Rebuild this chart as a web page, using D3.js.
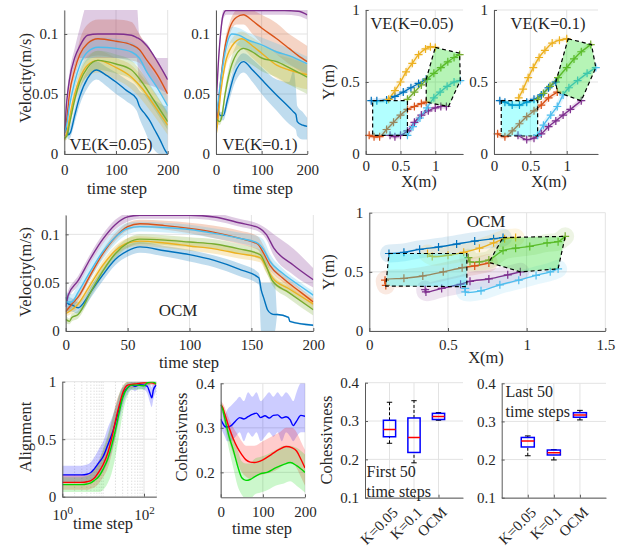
<!DOCTYPE html>
<html>
<head>
<meta charset="utf-8">
<script src="https://cdn.jsdelivr.net/npm/d3@7"></script>
<style>
  body { margin: 0; background: #fff; }
</style>
</head>
<body>
<svg id="fig" width="631" height="550"></svg>
<script>
// ---------------- data ----------------
// velocity series: [time step, mean, band low, band high]
const k005Blue = [[0,0.02,0.017,0.023],[4,0.022,0.018,0.026],[8,0.016,0.012,0.02],[12,0.018,0.014,0.024],[20,0.032,0.026,0.038],[30,0.048,0.041,0.055],[45,0.063,0.055,0.07],[62,0.07,0.062,0.077],[80,0.066,0.057,0.073],[100,0.06,0.05,0.068],[120,0.053,0.044,0.062],[140,0.046,0.036,0.056],[145,0.04,0.03,0.053],[155,0.034,0.02,0.05],[165,0.028,0.01,0.048],[175,0.02,0.003,0.045],[185,0.012,0,0.042],[195,0.003,0,0.04],[200,0,0,0.04]];
const k005Orange = [[0,0.017,0.015,0.019],[5,0.03,0.026,0.034],[10,0.05,0.045,0.055],[20,0.07,0.064,0.076],[30,0.083,0.076,0.095],[45,0.092,0.08,0.108],[65,0.096,0.082,0.112],[100,0.094,0.08,0.112],[130,0.091,0.078,0.11],[145,0.087,0.076,0.1],[160,0.078,0.068,0.09],[180,0.066,0.055,0.078],[200,0.05,0.04,0.062]];
const k005Yellow = [[0,0.012,0.01,0.014],[5,0.018,0.015,0.021],[10,0.03,0.026,0.034],[20,0.05,0.044,0.056],[30,0.063,0.055,0.07],[45,0.074,0.065,0.082],[65,0.078,0.068,0.086],[100,0.072,0.062,0.08],[130,0.064,0.054,0.074],[150,0.055,0.045,0.065],[170,0.043,0.034,0.054],[200,0.024,0.016,0.034]];
const k005Purple = [[0,0.015,0.012,0.018],[5,0.045,0.04,0.05],[10,0.062,0.056,0.068],[20,0.08,0.073,0.088],[30,0.09,0.08,0.105],[45,0.099,0.08,0.125],[65,0.1,0.08,0.125],[100,0.1,0.08,0.125],[130,0.099,0.08,0.125],[140,0.097,0.08,0.125],[145,0.096,0.06,0.1],[160,0.09,0.058,0.092],[180,0.077,0.055,0.08],[200,0.062,0.05,0.08]];
const k005Green = [[0,0.013,0.011,0.015],[5,0.015,0.012,0.018],[10,0.025,0.021,0.029],[20,0.045,0.04,0.05],[30,0.06,0.054,0.067],[45,0.072,0.065,0.08],[65,0.078,0.07,0.086],[100,0.075,0.067,0.083],[130,0.07,0.062,0.078],[150,0.06,0.052,0.068],[170,0.047,0.04,0.055],[200,0.027,0.02,0.035]];
const k005Cyan = [[0,0.018,0.015,0.021],[5,0.025,0.021,0.029],[10,0.04,0.035,0.045],[20,0.06,0.054,0.066],[30,0.074,0.067,0.081],[45,0.085,0.078,0.093],[65,0.089,0.081,0.097],[100,0.088,0.08,0.096],[130,0.085,0.077,0.093],[145,0.08,0.072,0.088],[160,0.068,0.06,0.076],[180,0.055,0.047,0.063],[200,0.04,0.032,0.048]];

const k01Blue = [[0,0.042,0.04,0.044],[5,0.036,0.033,0.039],[10,0.032,0.029,0.035],[16,0.032,0.028,0.036],[25,0.045,0.039,0.051],[40,0.066,0.058,0.073],[60,0.077,0.068,0.084],[80,0.07,0.06,0.079],[100,0.062,0.05,0.072],[133,0.049,0.036,0.062],[160,0.039,0.025,0.06],[170,0.035,0.022,0.07],[175,0.033,0.02,0.055],[178,0.027,0.015,0.04],[190,0.024,0.012,0.035],[200,0.023,0.012,0.03]];
const k01Orange = [[0,0.018,0.016,0.02],[5,0.04,0.036,0.044],[10,0.06,0.055,0.065],[20,0.09,0.085,0.095],[30,0.105,0.1,0.11],[45,0.114,0.108,0.12],[60,0.116,0.108,0.122],[80,0.111,0.1,0.12],[100,0.105,0.092,0.116],[133,0.096,0.083,0.109],[160,0.088,0.075,0.1],[180,0.082,0.07,0.095],[200,0.077,0.065,0.09]];
const k01Yellow = [[0,0.015,0.013,0.017],[5,0.03,0.027,0.033],[10,0.05,0.046,0.054],[20,0.075,0.07,0.08],[35,0.09,0.083,0.096],[56,0.096,0.088,0.102],[80,0.09,0.08,0.097],[100,0.084,0.073,0.092],[133,0.074,0.063,0.083],[160,0.07,0.058,0.08],[200,0.066,0.054,0.075]];
const k01Purple = [[0,0.04,0.037,0.043],[5,0.075,0.071,0.079],[10,0.1,0.096,0.104],[15,0.115,0.111,0.119],[22,0.1195,0.116,0.123],[60,0.1195,0.116,0.123],[100,0.1195,0.116,0.123],[150,0.1195,0.116,0.123],[180,0.119,0.115,0.123],[200,0.116,0.112,0.12]];
const k01Green = [[0,0.03,0.027,0.033],[4,0.028,0.025,0.031],[8,0.027,0.024,0.03],[12,0.03,0.027,0.034],[20,0.05,0.045,0.055],[35,0.075,0.068,0.082],[60,0.088,0.078,0.096],[80,0.085,0.074,0.094],[100,0.08,0.069,0.09],[133,0.077,0.064,0.086],[160,0.072,0.058,0.082],[200,0.064,0.05,0.074]];
const k01Cyan = [[0,0.03,0.027,0.033],[5,0.045,0.04,0.05],[10,0.06,0.055,0.065],[20,0.085,0.079,0.091],[35,0.1,0.093,0.106],[50,0.099,0.09,0.105],[70,0.095,0.086,0.101],[100,0.091,0.082,0.097],[133,0.085,0.077,0.092],[160,0.082,0.074,0.088],[200,0.075,0.067,0.081]];

const ocmBlue = [[0,0.035,0.025,0.045],[2,0.028,0.02,0.036],[5,0.027,0.02,0.034],[10,0.024,0.018,0.03],[15,0.03,0.024,0.036],[20,0.04,0.034,0.046],[30,0.058,0.052,0.064],[40,0.074,0.068,0.08],[50,0.083,0.077,0.089],[60,0.087,0.081,0.092],[80,0.083,0.077,0.088],[100,0.079,0.072,0.084],[120,0.073,0.066,0.078],[140,0.064,0.057,0.07],[156,0.055,0.048,0.06],[158,0.042,0,0.05],[160,0.034,0,0.05],[163,0.022,0,0.05],[166,0.018,0,0.05],[169,0.017,0,0.05],[171,0.017,0.016,0.018],[180,0.014,0.013,0.015],[181,0.01,0.009,0.011],[200,0.006,0.005,0.007]];
const ocmOrange = [[0,0.02,0.017,0.023],[5,0.028,0.024,0.032],[10,0.035,0.031,0.039],[20,0.058,0.054,0.062],[30,0.08,0.076,0.084],[40,0.097,0.093,0.101],[50,0.108,0.104,0.112],[60,0.111,0.107,0.115],[80,0.109,0.105,0.114],[100,0.106,0.101,0.112],[120,0.102,0.096,0.109],[140,0.096,0.09,0.104],[155,0.09,0.084,0.098],[160,0.08,0.074,0.088],[165,0.068,0.063,0.075],[175,0.055,0.051,0.06],[190,0.04,0.036,0.044],[200,0.03,0.026,0.034]];
const ocmYellow = [[0,0.018,0.015,0.021],[5,0.022,0.018,0.026],[10,0.028,0.024,0.032],[20,0.048,0.044,0.052],[30,0.068,0.063,0.073],[40,0.083,0.078,0.088],[50,0.091,0.086,0.096],[60,0.093,0.088,0.098],[80,0.091,0.086,0.096],[100,0.088,0.083,0.093],[120,0.085,0.08,0.09],[140,0.08,0.075,0.085],[157,0.076,0.071,0.081],[162,0.066,0.06,0.072],[167,0.055,0.05,0.061],[180,0.044,0.039,0.049],[200,0.028,0.023,0.033]];
const ocmPurple = [[0,0.025,0.02,0.035],[2,0.037,0.032,0.042],[10,0.052,0.047,0.057],[20,0.075,0.07,0.08],[30,0.095,0.09,0.1],[40,0.11,0.105,0.115],[50,0.118,0.113,0.122],[60,0.1198,0.116,0.123],[100,0.1198,0.116,0.123],[120,0.118,0.114,0.122],[140,0.112,0.108,0.116],[157,0.106,0.102,0.11],[162,0.1,0.095,0.106],[168,0.086,0.078,0.1],[184,0.068,0.058,0.085],[200,0.053,0.045,0.065]];
const ocmGreen = [[0,0.012,0.008,0.016],[3,0.01,0.007,0.013],[5,0.014,0.01,0.018],[10,0.017,0.013,0.021],[20,0.04,0.035,0.045],[30,0.062,0.057,0.067],[40,0.08,0.075,0.085],[50,0.091,0.086,0.096],[60,0.095,0.09,0.1],[80,0.094,0.089,0.099],[100,0.092,0.087,0.097],[120,0.09,0.085,0.095],[140,0.085,0.08,0.09],[157,0.079,0.074,0.084],[162,0.067,0.061,0.073],[167,0.052,0.047,0.058],[180,0.04,0.034,0.046],[200,0.022,0.016,0.028]];
const ocmCyan = [[0,0.03,0.02,0.04],[5,0.03,0.022,0.038],[10,0.04,0.032,0.048],[20,0.062,0.054,0.07],[30,0.082,0.074,0.09],[40,0.097,0.09,0.104],[50,0.106,0.1,0.112],[60,0.108,0.103,0.113],[80,0.107,0.102,0.112],[100,0.105,0.1,0.11],[120,0.101,0.096,0.106],[140,0.096,0.091,0.102],[155,0.091,0.085,0.098],[160,0.084,0.076,0.094],[165,0.072,0.065,0.08],[175,0.06,0.055,0.065],[190,0.046,0.042,0.05],[200,0.037,0.033,0.041]];

// trajectories: [X (m), Y (m)]
const trK005Blue = [[0.08,0.37],[0.16,0.37],[0.3,0.375],[0.42,0.4],[0.54,0.43],[0.65,0.46],[0.76,0.49],[0.87,0.52]];
const trK005Orange = [[0.05,0.13],[0.12,0.12],[0.2,0.12],[0.3,0.17],[0.4,0.22],[0.5,0.27],[0.6,0.31],[0.7,0.33],[0.8,0.35],[0.87,0.36]];
const trK005Yellow = [[0.33,0.38],[0.42,0.44],[0.5,0.5],[0.58,0.57],[0.67,0.63],[0.76,0.69],[0.86,0.73],[0.93,0.745],[1.0,0.74]];
const trK005Purple = [[0.35,0.13],[0.42,0.12],[0.5,0.13],[0.6,0.16],[0.7,0.22],[0.8,0.27],[0.9,0.3],[1.0,0.32],[1.08,0.33],[1.16,0.33]];
const trK005Green = [[0.6,0.38],[0.7,0.43],[0.8,0.48],[0.88,0.52],[0.98,0.56],[1.08,0.6],[1.18,0.64],[1.27,0.67],[1.35,0.69]];
const trK005Cyan = [[0.6,0.13],[0.68,0.19],[0.78,0.25],[0.88,0.32],[0.98,0.39],[1.07,0.43],[1.17,0.47],[1.27,0.5],[1.36,0.51]];
const startK005 = [[0.1,0.37],[0.6,0.37],[0.6,0.13],[0.1,0.13]];
const endK005 = [[1.0,0.74],[1.35,0.7],[1.36,0.51],[1.19,0.33],[0.87,0.36],[0.87,0.52]];

const trK01Blue = [[0.08,0.37],[0.15,0.36],[0.25,0.34],[0.35,0.34],[0.45,0.36],[0.55,0.38],[0.65,0.41],[0.75,0.46],[0.85,0.5]];
const trK01Orange = [[0.05,0.14],[0.15,0.12],[0.25,0.16],[0.35,0.21],[0.45,0.26],[0.55,0.3],[0.65,0.34],[0.75,0.39],[0.87,0.43]];
const trK01Yellow = [[0.34,0.39],[0.4,0.45],[0.47,0.53],[0.54,0.6],[0.62,0.67],[0.7,0.72],[0.8,0.77],[0.9,0.79],[1.0,0.8]];
const trK01Purple = [[0.33,0.13],[0.45,0.1],[0.55,0.11],[0.65,0.14],[0.75,0.19],[0.85,0.23],[0.95,0.27],[1.05,0.31],[1.2,0.37]];
const trK01Green = [[0.6,0.38],[0.68,0.42],[0.77,0.47],[0.88,0.53],[1.0,0.6],[1.1,0.66],[1.2,0.71],[1.33,0.76]];
const trK01Cyan = [[0.6,0.13],[0.68,0.2],[0.78,0.27],[0.87,0.33],[0.95,0.41],[1.03,0.46],[1.15,0.51],[1.28,0.56],[1.4,0.6]];
const startK01 = [[0.1,0.37],[0.6,0.37],[0.6,0.125],[0.1,0.125]];
const endK01 = [[1.02,0.8],[1.34,0.76],[1.4,0.6],[1.2,0.37],[0.87,0.43],[0.85,0.5]];

const trOcmBlue = [[0.125,0.655],[0.22,0.665],[0.32,0.69],[0.44,0.71],[0.555,0.735],[0.67,0.76],[0.79,0.78],[0.85,0.79]];
const trOcmOrange = [[0.105,0.385],[0.1,0.43],[0.22,0.445],[0.34,0.465],[0.47,0.5],[0.59,0.535],[0.67,0.55],[0.76,0.575]];
const trOcmYellow = [[0.37,0.655],[0.4,0.63],[0.5,0.64],[0.6,0.665],[0.7,0.7],[0.79,0.745],[0.86,0.78],[0.93,0.79]];
const trOcmPurple = [[0.355,0.35],[0.36,0.33],[0.46,0.36],[0.58,0.395],[0.64,0.42],[0.76,0.44],[0.88,0.475],[0.96,0.5]];
const trOcmGreen = [[0.63,0.62],[0.64,0.585],[0.7,0.585],[0.76,0.6],[0.85,0.68],[0.93,0.7],[1.02,0.715],[1.13,0.745],[1.2,0.755],[1.245,0.8]];
const trOcmCyan = [[0.61,0.36],[0.61,0.33],[0.71,0.34],[0.83,0.39],[0.95,0.43],[1.06,0.47],[1.15,0.5],[1.2,0.525]];
const startOcm = [[0.125,0.655],[0.62,0.655],[0.62,0.375],[0.105,0.38]];
const endOcm = [[0.85,0.79],[1.245,0.8],[1.2,0.525],[0.96,0.5],[0.76,0.58]];

// alignment: [time step, mean, low, high]
const alignOcm = [[1,0.19,0.12,0.27],[2,0.19,0.12,0.27],[3,0.19,0.12,0.27],[4,0.195,0.12,0.28],[5,0.21,0.13,0.3],[6,0.24,0.15,0.34],[8,0.3,0.18,0.42],[10,0.35,0.22,0.48],[13,0.45,0.3,0.6],[17,0.56,0.42,0.7],[22,0.7,0.58,0.82],[27,0.82,0.72,0.92],[32,0.9,0.82,0.96],[40,0.95,0.9,0.99],[50,0.97,0.93,1],[60,0.96,0.92,1],[80,0.975,0.94,1],[100,0.97,0.93,1],[120,0.96,0.9,1],[140,0.9,0.82,0.98],[155,0.86,0.78,0.95],[170,0.93,0.85,1],[200,0.97,0.92,1]];
const alignK005 = [[1,0.125,0.06,0.19],[3,0.125,0.06,0.19],[4,0.13,0.06,0.2],[5,0.14,0.07,0.21],[6,0.16,0.08,0.24],[8,0.22,0.12,0.32],[10,0.28,0.17,0.4],[13,0.38,0.25,0.52],[16,0.5,0.36,0.64],[20,0.66,0.52,0.8],[25,0.8,0.7,0.9],[30,0.9,0.82,0.96],[40,0.97,0.93,1],[60,0.98,0.95,1],[100,0.99,0.97,1],[150,0.99,0.97,1],[200,0.98,0.96,1]];
const alignK01 = [[1,0.105,0.04,0.17],[3,0.105,0.04,0.17],[4,0.11,0.04,0.18],[5,0.12,0.04,0.2],[6,0.14,0.04,0.24],[8,0.18,0.04,0.32],[10,0.24,0.06,0.42],[13,0.33,0.12,0.54],[16,0.44,0.2,0.66],[20,0.58,0.35,0.78],[25,0.74,0.55,0.9],[30,0.86,0.72,0.96],[40,0.95,0.88,1],[50,0.97,0.93,1],[70,0.97,0.93,1],[100,0.965,0.93,1],[120,0.99,0.96,1],[160,1.0,0.98,1],[200,0.98,0.96,1]];

// cohesiveness: [time step, mean, low, high]
const cohOcm = [[0,0.32,0.3,0.34],[5,0.31,0.29,0.335],[10,0.303,0.28,0.33],[15,0.302,0.27,0.34],[25,0.305,0.27,0.35],[35,0.315,0.28,0.36],[45,0.323,0.29,0.37],[55,0.32,0.27,0.36],[65,0.325,0.29,0.38],[75,0.33,0.28,0.37],[85,0.333,0.29,0.38],[95,0.323,0.27,0.36],[105,0.327,0.28,0.37],[115,0.322,0.29,0.38],[125,0.328,0.28,0.37],[135,0.329,0.29,0.38],[145,0.322,0.27,0.37],[155,0.325,0.29,0.38],[165,0.318,0.28,0.37],[172,0.305,0.27,0.36],[180,0.315,0.28,0.38],[190,0.328,0.29,0.4],[200,0.326,0.29,0.4]];
const cohK005 = [[0,0.352,0.34,0.36],[5,0.345,0.33,0.355],[10,0.33,0.31,0.345],[20,0.3,0.27,0.32],[30,0.275,0.24,0.3],[40,0.255,0.22,0.285],[50,0.24,0.2,0.27],[60,0.228,0.19,0.26],[70,0.223,0.185,0.26],[80,0.222,0.19,0.26],[100,0.228,0.195,0.27],[120,0.24,0.2,0.28],[140,0.252,0.21,0.29],[155,0.258,0.22,0.3],[170,0.255,0.22,0.3],[180,0.248,0.21,0.29],[190,0.23,0.19,0.27],[200,0.21,0.17,0.25]];
const cohK01 = [[0,0.352,0.345,0.36],[5,0.34,0.33,0.35],[10,0.32,0.3,0.335],[20,0.28,0.25,0.305],[30,0.25,0.21,0.28],[40,0.215,0.17,0.25],[50,0.188,0.15,0.225],[60,0.182,0.14,0.22],[70,0.184,0.14,0.22],[80,0.19,0.15,0.23],[95,0.197,0.155,0.235],[110,0.2,0.16,0.24],[130,0.21,0.17,0.25],[150,0.218,0.175,0.26],[165,0.222,0.18,0.26],[180,0.215,0.17,0.255],[200,0.2,0.155,0.24]];

// box plots: [lower whisker, Q1, median, Q3, upper whisker]
const boxCats = ["K=0.05", "K=0.1", "OCM"];
const boxFirst50 = [[0.242,0.259,0.278,0.302,0.349],[0.191,0.218,0.257,0.308,0.353],[0.302,0.304,0.312,0.32,0.322]];
const boxLast50 = [[0.21,0.233,0.249,0.258,0.262],[0.199,0.212,0.218,0.225,0.226],[0.304,0.311,0.317,0.323,0.329]];

// ---------------- drawing ----------------
const FONT = '"Liberation Serif","Times New Roman",Times,serif';
const AX = "#5a5a5a", TXT = "#262626", GRID = "#e3e3e3";
const robotColors = ["#0072BD", "#D95319", "#EDB120", "#7E2F8E", "#77AC30", "#4DBEEE"];
const metricColors = ["#0000ff", "#ff0000", "#00d800"];
const svg = d3.select("#fig");
let clipN = 0;
const numFmt = d => String(d);

function panel(xs, ys, o) {
  const g = svg.append("g");
  const [x0, x1] = xs.range(), [y0, y1] = ys.range();
  const grid = g.append("g");
  if (o.minorX) {
    grid.append("g").selectAll("line").data(o.minorX).join("line")
      .attr("x1", d => xs(d)).attr("x2", d => xs(d)).attr("y1", y0).attr("y2", y1)
      .attr("stroke", "#d0d0d0").attr("stroke-dasharray", "1,2");
  }
  grid.append("g").selectAll("line").data(o.gridX || o.xTicks).join("line")
    .attr("x1", d => xs(d)).attr("x2", d => xs(d)).attr("y1", y0).attr("y2", y1)
    .attr("stroke", GRID);
  grid.append("g").selectAll("line").data(o.yTicks).join("line")
    .attr("y1", d => ys(d)).attr("y2", d => ys(d)).attr("x1", x0).attr("x2", x1)
    .attr("stroke", GRID);
  const id = "clip" + (clipN++);
  g.append("clipPath").attr("id", id).append("rect")
    .attr("x", x0).attr("y", y1).attr("width", x1 - x0).attr("height", y0 - y1);
  const plot = g.append("g").attr("clip-path", `url(#${id})`);
  const free = g.append("g");
  const axX = g.append("g").attr("transform", `translate(0,${y0})`)
    .call(d3.axisBottom(xs).tickValues(o.xTicks).tickFormat(o.xFmt || numFmt)
      .tickSize(-3).tickSizeOuter(0).tickPadding(o.xPad ?? 10));
  const axY = g.append("g").attr("transform", `translate(${x0},0)`)
    .call(d3.axisLeft(ys).tickValues(o.yTicks).tickFormat(o.yFmt || numFmt)
      .tickSize(-3).tickSizeOuter(0).tickPadding(o.yPad ?? 6));
  [axX, axY].forEach(a => {
    a.attr("font-family", FONT).attr("font-size", 15);
    a.select(".domain").attr("stroke", AX);
    a.selectAll(".tick line").attr("stroke", AX);
    a.selectAll(".tick text").attr("fill", TXT);
  });
  return { g, plot, free, axX, axY };
}

function text(str, x, y, o = {}) {
  const t = svg.append("text").attr("x", x).attr("y", y)
    .attr("font-family", FONT).attr("font-size", o.size || 16.5).attr("fill", TXT)
    .attr("text-anchor", o.anchor || "middle").attr("dominant-baseline", "middle")
    .text(str);
  if (o.rot) t.attr("transform", `rotate(${o.rot},${x},${y})`);
  return t;
}

function bandsAndLines(p, xs, ys, list, colors, bandOp, lw) {
  const curve = d3.curveMonotoneX;
  const area = d3.area().x(d => xs(d[0])).y0(d => ys(d[2])).y1(d => ys(d[3])).curve(curve);
  const line = d3.line().x(d => xs(d[0])).y(d => ys(d[1])).curve(curve);
  list.forEach((s, i) => p.plot.append("path").attr("d", area(s))
    .attr("fill", colors[i]).attr("fill-opacity", bandOp));
  list.forEach((s, i) => p.plot.append("path").attr("d", line(s))
    .attr("fill", "none").attr("stroke", colors[i]).attr("stroke-width", lw));
}

function trajectories(p, xs, ys, list, startPoly, endPoly, shadeW, shadeOp) {
  const line = d3.line().x(d => xs(d[0])).y(d => ys(d[1])).curve(d3.curveCatmullRom);
  list.forEach((s, i) => p.free.append("path").attr("d", line(s)).attr("fill", "none")
    .attr("stroke", robotColors[i]).attr("stroke-opacity", shadeOp)
    .attr("stroke-width", shadeW).attr("stroke-linecap", "round").attr("stroke-linejoin", "round"));
  list.forEach((s, i) => p.free.append("path").attr("d", line(s)).attr("fill", "none")
    .attr("stroke", robotColors[i]).attr("stroke-width", 1.4));
  list.forEach((s, i) => p.free.append("g").selectAll("path").data(s).join("path")
    .attr("d", d => `M${xs(d[0]) - 4},${ys(d[1])}h8M${xs(d[0])},${ys(d[1]) - 4}v8`)
    .attr("stroke", robotColors[i]).attr("stroke-width", 1.2));
  const poly = d3.line().x(d => xs(d[0])).y(d => ys(d[1]));
  p.free.append("path").attr("d", poly(startPoly) + "Z").attr("fill", "#00ffff").attr("fill-opacity", 0.3)
    .attr("stroke", "#000").attr("stroke-width", 1.2).attr("stroke-dasharray", "4,3");
  p.free.append("path").attr("d", poly(endPoly) + "Z").attr("fill", "#22dd22").attr("fill-opacity", 0.33)
    .attr("stroke", "#000").attr("stroke-width", 1.2).attr("stroke-dasharray", "4,3");
}

function boxes(p, xs, ys, data) {
  const w = 0.5, cap = 0.22;
  data.forEach((b, i) => {
    const c = i + 1;
    p.plot.append("line").attr("x1", xs(c)).attr("x2", xs(c)).attr("y1", ys(b[3])).attr("y2", ys(b[4]))
      .attr("stroke", "#000").attr("stroke-dasharray", "3,2");
    p.plot.append("line").attr("x1", xs(c)).attr("x2", xs(c)).attr("y1", ys(b[0])).attr("y2", ys(b[1]))
      .attr("stroke", "#000").attr("stroke-dasharray", "3,2");
    [b[0], b[4]].forEach(v => p.plot.append("line")
      .attr("x1", xs(c - cap / 2)).attr("x2", xs(c + cap / 2)).attr("y1", ys(v)).attr("y2", ys(v))
      .attr("stroke", "#000"));
    p.plot.append("rect").attr("x", xs(c - w / 2)).attr("width", xs(c + w / 2) - xs(c - w / 2))
      .attr("y", ys(b[3])).attr("height", ys(b[1]) - ys(b[3]))
      .attr("fill", "none").attr("stroke", "#0000ff").attr("stroke-width", 1.5);
    p.plot.append("line").attr("x1", xs(c - w / 2)).attr("x2", xs(c + w / 2)).attr("y1", ys(b[2])).attr("y2", ys(b[2]))
      .attr("stroke", "#ff0000").attr("stroke-width", 1.5);
  });
  p.axX.selectAll(".tick text").attr("y", null).attr("dy", "0.35em")
    .attr("text-anchor", "end").attr("transform", "translate(5,12) rotate(-45)");
}

// --- velocity, VE(K=0.05)
{
  const xs = d3.scaleLinear([0, 200], [64.3, 167.7]);
  const ys = d3.scaleLinear([0, 0.12], [154, 10]);
  const p = panel(xs, ys, { xTicks: [0, 100, 200], yTicks: [0, 0.05, 0.1] });
  bandsAndLines(p, xs, ys, [k005Blue, k005Orange, k005Yellow, k005Purple, k005Green, k005Cyan], robotColors, 0.25, 1.4);
  text("VE(K=0.05)", 111, 146);
  text("time step", 117, 190);
  text("Velocity(m/s)", 27, 78, { rot: -90 });
}
// --- velocity, VE(K=0.1)
{
  const xs = d3.scaleLinear([0, 200], [216, 307.3]);
  const ys = d3.scaleLinear([0, 0.12], [154, 10]);
  const p = panel(xs, ys, { xTicks: [0, 100, 200], yTicks: [0, 0.05, 0.1] });
  bandsAndLines(p, xs, ys, [k01Blue, k01Orange, k01Yellow, k01Purple, k01Green, k01Cyan], robotColors, 0.25, 1.4);
  text("VE(K=0.1)", 260, 146);
  text("time step", 263, 190);
}
// --- trajectories, VE(K=0.05)
{
  const xs = d3.scaleLinear([0, 1.4], [365.7, 463.1]);
  const ys = d3.scaleLinear([0, 1], [154, 10]);
  const p = panel(xs, ys, { xTicks: [0, 0.5, 1], yTicks: [0, 0.5, 1], xPad: 6 });
  trajectories(p, xs, ys, [trK005Blue, trK005Orange, trK005Yellow, trK005Purple, trK005Green, trK005Cyan], startK005, endK005, 5, 0.15);
  text("VE(K=0.05)", 412, 25);
  text("X(m)", 419, 183);
  text("Y(m)", 330, 82, { rot: -90 });
}
// --- trajectories, VE(K=0.1)
{
  const xs = d3.scaleLinear([0, 1.43], [494, 598]);
  const ys = d3.scaleLinear([0, 1], [154, 10]);
  const p = panel(xs, ys, { xTicks: [0, 0.5, 1], yTicks: [0, 0.5, 1], xPad: 6 });
  trajectories(p, xs, ys, [trK01Blue, trK01Orange, trK01Yellow, trK01Purple, trK01Green, trK01Cyan], startK01, endK01, 5, 0.15);
  text("VE(K=0.1)", 548, 25);
  text("X(m)", 549, 183);
}
// --- velocity, OCM
{
  const xs = d3.scaleLinear([0, 200], [65.7, 313.3]);
  const ys = d3.scaleLinear([0, 0.12], [331, 215]);
  const p = panel(xs, ys, { xTicks: [0, 50, 100, 150, 200], yTicks: [0, 0.05, 0.1], xPad: 8 });
  bandsAndLines(p, xs, ys, [ocmBlue, ocmOrange, ocmYellow, ocmPurple, ocmGreen, ocmCyan], robotColors, 0.25, 1.4);
  text("OCM", 178, 312, { size: 17 });
  text("time step", 189, 364.5);
  text("Velocity(m/s)", 27, 272, { rot: -90 });
}
// --- trajectories, OCM
{
  const xs = d3.scaleLinear([0, 1.5], [369.3, 605.3]);
  const ys = d3.scaleLinear([0, 1], [331, 212.7]);
  const p = panel(xs, ys, { xTicks: [0, 0.5, 1, 1.5], yTicks: [0, 0.5, 1], xPad: 8 });
  trajectories(p, xs, ys, [trOcmBlue, trOcmOrange, trOcmYellow, trOcmPurple, trOcmGreen, trOcmCyan], startOcm, endOcm, 18, 0.13);
  text("OCM", 486, 223, { size: 17 });
  text("X(m)", 486, 359);
  text("Y(m)", 330, 272, { rot: -90 });
}
// --- alignment (log time axis)
{
  const xs = d3.scaleLog([1, 200], [62.3, 156.3]);
  const ys = d3.scaleLinear([0, 1], [496.7, 381.7]);
  const minor = [2,3,4,5,6,7,8,9,10,20,30,40,50,60,70,80,90,200];
  const p = panel(xs, ys, { xTicks: [1, 100], yTicks: [0, 0.5, 1], minorX: minor, xPad: 13 });
  p.axX.selectAll(".tick text").each(function (d) {
    const t = d3.select(this).text("10");
    t.append("tspan").attr("dy", -6).attr("font-size", 11).text(Math.round(Math.log10(d)));
  });
  bandsAndLines(p, xs, ys, [alignOcm, alignK005, alignK01], metricColors, 0.2, 1.4);
  text("time step", 103, 525);
  text("Alignment", 27, 437, { rot: -90 });
}
// --- cohesiveness over time
{
  const xs = d3.scaleLinear([0, 200], [220.7, 305]);
  const ys = d3.scaleLinear([0.144, 0.4], [497.3, 383.3]);
  const p = panel(xs, ys, { xTicks: [0, 100, 200], yTicks: [0.2, 0.3, 0.4], xPad: 9 });
  bandsAndLines(p, xs, ys, [cohOcm, cohK005, cohK01], metricColors, 0.2, 1.4);
  text("time step", 262, 530);
  text("Cohessivness", 183, 437, { rot: -90 });
}
// --- box plots, first 50 steps
{
  const xs = d3.scaleLinear([0, 4], [365, 463]);
  const ys = d3.scaleLinear([0.1, 0.4], [497.7, 382.7]);
  const p = panel(xs, ys, { xTicks: [1, 2, 3], yTicks: [0.1, 0.2, 0.3, 0.4], xFmt: d => boxCats[d - 1] });
  boxes(p, xs, ys, boxFirst50);
  text("First 50", 366.5, 473, { anchor: "start", size: 16 });
  text("time steps", 366.5, 493, { anchor: "start", size: 16 });
  text("Cohessivness", 328, 440, { rot: -90 });
}
// --- box plots, last 50 steps
{
  const xs = d3.scaleLinear([0, 4], [501.7, 606]);
  const ys = d3.scaleLinear([0.1, 0.4], [497.7, 383.3]);
  const p = panel(xs, ys, { xTicks: [1, 2, 3], yTicks: [0.1, 0.2, 0.3, 0.4], xFmt: d => boxCats[d - 1] });
  boxes(p, xs, ys, boxLast50);
  text("Last 50", 505.5, 393, { anchor: "start", size: 16 });
  text("time steps", 505.5, 413, { anchor: "start", size: 16 });
}
</script>
</body>
</html>
